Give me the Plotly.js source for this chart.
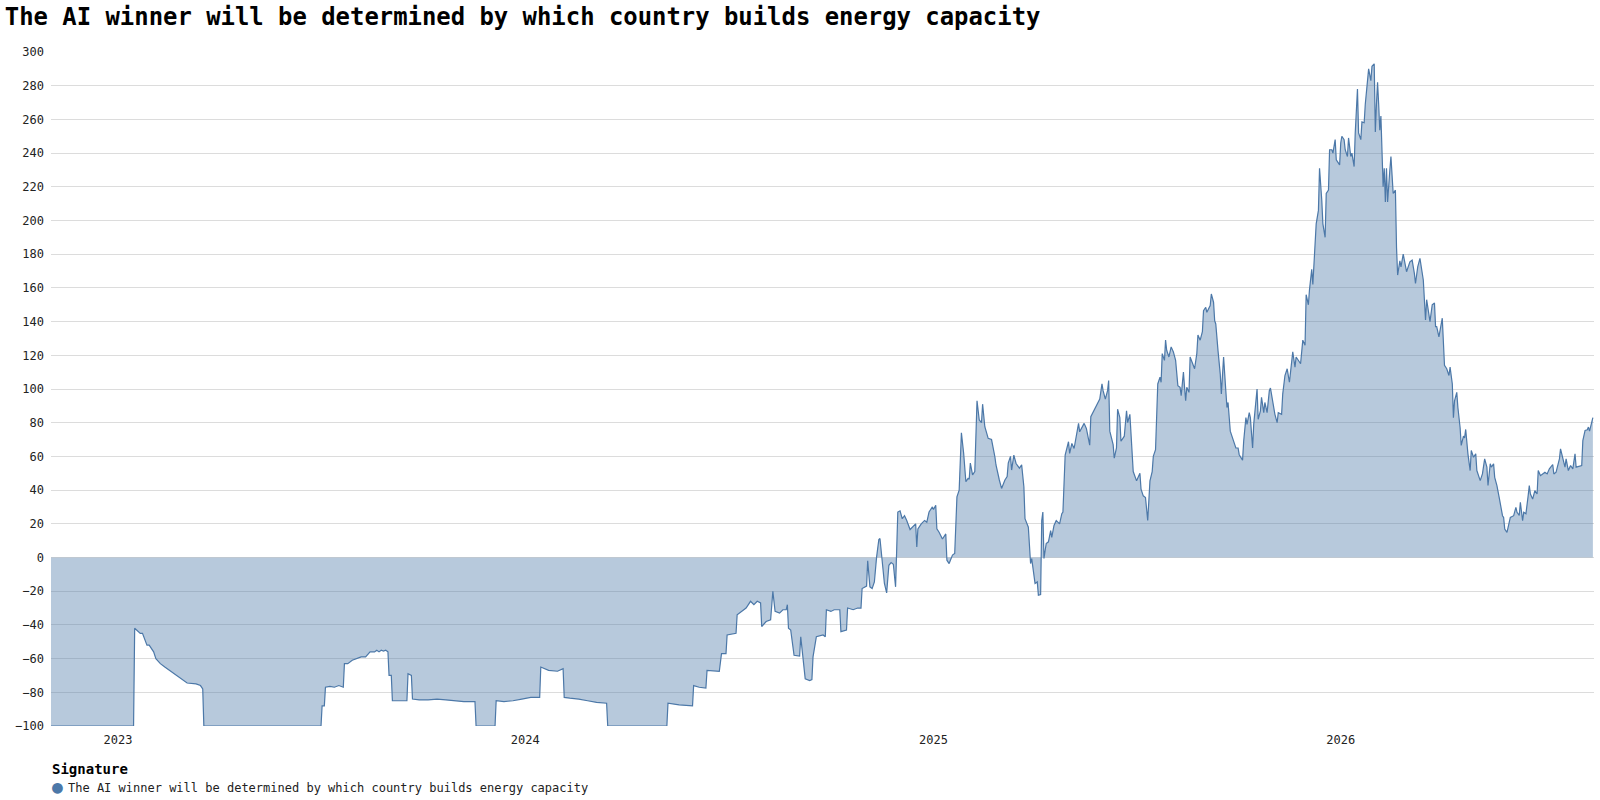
<!DOCTYPE html>
<html>
<head>
<meta charset="utf-8">
<script src="https://cdn.plot.ly/plotly-3.0.1.min.js"></script>
<style>
  html, body { margin: 0; padding: 0; background: #fff; }
  #chart { width: 1600px; height: 800px; }
</style>
</head>
<body>
<div id="chart"></div>
<script>
// values, one line per month
const dates2023 = [
  '2022-11-02', '2023-01-15', '2023-01-16', '2023-01-21', '2023-01-23', '2023-01-27', '2023-01-29',
  '2023-02-02', '2023-02-04', '2023-02-08', '2023-02-12', '2023-02-16', '2023-02-20', '2023-02-24', '2023-02-28',
  '2023-03-04', '2023-03-12', '2023-03-16', '2023-03-18', '2023-03-19',
  '2023-07-02', '2023-07-03', '2023-07-05', '2023-07-06', '2023-07-10', '2023-07-14', '2023-07-18', '2023-07-22', '2023-07-23', '2023-07-26', '2023-07-30',
  '2023-08-03', '2023-08-07', '2023-08-11', '2023-08-15', '2023-08-19', '2023-08-21', '2023-08-23', '2023-08-25', '2023-08-27', '2023-08-29', '2023-08-31',
  '2023-09-01', '2023-09-03', '2023-09-04', '2023-09-08', '2023-09-12', '2023-09-17', '2023-09-18', '2023-09-21', '2023-09-22', '2023-09-28',
  '2023-10-06', '2023-10-14', '2023-10-22', '2023-10-30',
  '2023-11-07', '2023-11-17', '2023-11-18',
  '2023-12-05', '2023-12-06', '2023-12-13', '2023-12-21', '2023-12-29',
];
const values2023 = [
  -100, -100, -42, -45, -45, -52, -52,
  -56, -60, -63, -65, -67, -69, -71, -73,
  -74.5, -75, -76, -78, -100,
  -100, -88, -88, -77, -76.5, -77, -76, -77, -63, -63, -61,
  -60, -59, -59, -56, -56, -55, -56, -55, -55.5, -55, -56,
  -70, -70, -85, -85, -85, -85, -69, -70, -84, -84.5,
  -84.5, -84, -84.5, -85,
  -85.5, -85.5, -100,
  -100, -85, -85.5, -85, -84,
];

const dates2024 = [
  '2024-01-06', '2024-01-14', '2024-01-15', '2024-01-22', '2024-01-30',
  '2024-02-04', '2024-02-05', '2024-02-10', '2024-02-18', '2024-02-26',
  '2024-03-05', '2024-03-14', '2024-03-15',
  '2024-05-07', '2024-05-08', '2024-05-18', '2024-05-30', '2024-05-31',
  '2024-06-05', '2024-06-11', '2024-06-12', '2024-06-23', '2024-06-25', '2024-06-29', '2024-06-30',
  '2024-07-08', '2024-07-09', '2024-07-17', '2024-07-21', '2024-07-24', '2024-07-27', '2024-07-30', '2024-07-31',
  '2024-08-04', '2024-08-08', '2024-08-10', '2024-08-12', '2024-08-16', '2024-08-19', '2024-08-22', '2024-08-23', '2024-08-24', '2024-08-26', '2024-08-29',
  '2024-09-03', '2024-09-04', '2024-09-06', '2024-09-08', '2024-09-12', '2024-09-14', '2024-09-15', '2024-09-18', '2024-09-24', '2024-09-26', '2024-09-27',
  '2024-10-01', '2024-10-04', '2024-10-09', '2024-10-10', '2024-10-15', '2024-10-16', '2024-10-21', '2024-10-25', '2024-10-28', '2024-10-29',
  '2024-11-02', '2024-11-03', '2024-11-05', '2024-11-07', '2024-11-09', '2024-11-11', '2024-11-13', '2024-11-14', '2024-11-16', '2024-11-18', '2024-11-20', '2024-11-22', '2024-11-24', '2024-11-26', '2024-11-28', '2024-11-30',
  '2024-12-02', '2024-12-04', '2024-12-06', '2024-12-08', '2024-12-11', '2024-12-13', '2024-12-16', '2024-12-17', '2024-12-18', '2024-12-21', '2024-12-24', '2024-12-26', '2024-12-28', '2024-12-31',
];
const values2024 = [
  -83, -83, -65, -67, -67.5,
  -66, -83, -83.5, -84, -85,
  -86, -86.5, -100,
  -100, -86.5, -87.5, -88, -76,
  -77, -77.5, -67, -67.5, -57, -57, -46,
  -45, -34, -30, -26, -28, -26, -27, -41,
  -38, -37, -20, -32, -33, -31, -31, -28, -42, -43, -58,
  -58.5, -47, -58, -72, -73, -72.5, -59, -47, -46, -47, -31,
  -32, -31, -31, -44, -43, -30, -31, -30, -30, -18.4,
  -17, -2, -17.4, -18.4, -14.5, 0.4, 10.7, 11.3, -0.6, -15.4, -21, -4.6, -3, -4, -17.4, 27,
  27.7, 23, 24.8, 22, 16.6, 18, 20, 6.3, 17, 20, 22, 21, 27, 30,
];

const dates2025 = [
  '2025-01-01', '2025-01-03', '2025-01-04', '2025-01-06', '2025-01-09', '2025-01-12', '2025-01-13', '2025-01-15', '2025-01-18', '2025-01-20', '2025-01-22', '2025-01-24', '2025-01-26', '2025-01-28', '2025-01-30',
  '2025-02-01', '2025-02-02', '2025-02-03', '2025-02-05', '2025-02-07', '2025-02-09', '2025-02-11', '2025-02-13', '2025-02-14', '2025-02-16', '2025-02-19', '2025-02-22', '2025-02-25', '2025-02-26',
  '2025-03-01', '2025-03-03', '2025-03-06', '2025-03-08', '2025-03-09', '2025-03-11', '2025-03-12', '2025-03-14', '2025-03-16', '2025-03-19', '2025-03-21', '2025-03-23', '2025-03-24', '2025-03-27', '2025-03-29', '2025-03-30',
  '2025-04-02', '2025-04-04', '2025-04-05', '2025-04-07', '2025-04-08', '2025-04-09', '2025-04-10', '2025-04-12', '2025-04-14', '2025-04-16', '2025-04-17', '2025-04-19', '2025-04-21', '2025-04-24', '2025-04-26', '2025-04-27', '2025-04-29', '2025-04-30',
  '2025-05-02', '2025-05-03', '2025-05-05', '2025-05-07', '2025-05-09', '2025-05-11', '2025-05-12', '2025-05-14', '2025-05-16', '2025-05-18', '2025-05-21', '2025-05-22', '2025-05-25', '2025-05-27', '2025-05-30',
  '2025-06-01', '2025-06-02', '2025-06-04', '2025-06-06', '2025-06-07', '2025-06-08', '2025-06-11', '2025-06-12', '2025-06-14', '2025-06-15', '2025-06-17', '2025-06-18', '2025-06-21', '2025-06-23', '2025-06-24', '2025-06-26', '2025-06-29',
  '2025-07-02', '2025-07-05', '2025-07-06', '2025-07-08', '2025-07-10', '2025-07-12', '2025-07-14', '2025-07-16', '2025-07-17', '2025-07-19', '2025-07-21', '2025-07-23', '2025-07-24', '2025-07-25', '2025-07-27', '2025-07-28', '2025-07-29', '2025-07-31',
  '2025-08-02', '2025-08-04', '2025-08-06', '2025-08-08', '2025-08-10', '2025-08-11', '2025-08-13', '2025-08-14', '2025-08-15', '2025-08-16', '2025-08-18', '2025-08-19', '2025-08-21', '2025-08-23', '2025-08-25', '2025-08-26', '2025-08-28', '2025-08-30', '2025-08-31',
  '2025-09-02', '2025-09-03', '2025-09-06', '2025-09-07', '2025-09-09', '2025-09-10', '2025-09-11', '2025-09-13', '2025-09-15', '2025-09-16', '2025-09-18', '2025-09-20', '2025-09-21', '2025-09-22', '2025-09-24', '2025-09-26', '2025-09-27', '2025-09-29',
  '2025-10-01', '2025-10-02', '2025-10-05', '2025-10-06', '2025-10-08', '2025-10-09', '2025-10-11', '2025-10-12', '2025-10-14', '2025-10-15', '2025-10-18', '2025-10-19', '2025-10-21', '2025-10-22', '2025-10-24', '2025-10-25', '2025-10-27', '2025-10-29', '2025-10-30',
  '2025-11-01', '2025-11-03', '2025-11-05', '2025-11-06', '2025-11-09', '2025-11-10', '2025-11-12', '2025-11-14', '2025-11-16', '2025-11-18', '2025-11-19', '2025-11-21', '2025-11-22', '2025-11-25', '2025-11-26', '2025-11-28', '2025-11-30',
  '2025-12-01', '2025-12-03', '2025-12-04', '2025-12-06', '2025-12-07', '2025-12-09', '2025-12-10', '2025-12-12', '2025-12-13', '2025-12-15', '2025-12-16', '2025-12-18', '2025-12-19', '2025-12-21', '2025-12-22', '2025-12-24', '2025-12-25', '2025-12-27', '2025-12-28', '2025-12-31',
];
const values2025 = [
  28.5, 31, 17, 15, 11, 14, -1.6, -3.6, 1.4, 2.4, 36, 40, 74, 62, 45,
  47, 46.5, 56, 49, 51, 93, 81.6, 80, 91, 77.6, 70.7, 70, 59.8, 54.9,
  46, 41, 46, 48, 56, 60, 51.9, 60.8, 55.8, 53, 55, 42, 23, 18, -3.6, -0.6,
  -15.4, -14.5, -22.4, -22, 22, 27, -0.6, 8.3, 9.3, 16, 12, 19, 22, 20, 26, 27, 60.8, 63.8,
  68.7, 61.8, 67.7, 64.7, 71.7, 79.6, 74.6, 77.6, 79.6, 76.6, 66.7, 83.6, 87.5, 90.5, 94,
  103, 99, 94, 99, 105, 75, 67, 59, 65, 88, 83, 69, 72, 87, 80, 85, 51,
  45.5, 50, 40.6, 36.6, 35.6, 22, 45.5, 51, 60, 64, 103, 107, 104, 121, 117, 129, 123, 119,
  125, 122, 117, 102, 101, 96, 110, 101, 93, 101, 98, 119, 115, 112, 121, 132, 129, 134, 146.5,
  148.5, 145.5, 149.5, 156.4, 151.5, 140.6, 138.6, 122.8, 109, 97, 119, 99, 89, 92, 75, 71, 69, 65,
  65, 61, 57.8, 69, 83, 79, 86, 83, 65, 79, 100, 82, 87, 95, 86, 92, 86, 99, 100.6,
  93, 85, 80, 86, 85, 97, 108, 112, 104, 117, 122, 113, 119, 116, 115, 129, 126,
  156, 150, 159, 171, 162, 184, 198, 206, 231, 212, 198, 190, 216, 218, 242, 242, 240, 248, 236, 233,
];

const dates2026 = [
  '2026-01-01', '2026-01-02', '2026-01-04', '2026-01-05', '2026-01-07', '2026-01-08', '2026-01-10', '2026-01-11', '2026-01-13', '2026-01-14', '2026-01-16', '2026-01-17', '2026-01-19', '2026-01-20', '2026-01-22', '2026-01-23', '2026-01-25', '2026-01-26', '2026-01-28', '2026-01-29', '2026-01-31',
  '2026-02-01', '2026-02-02', '2026-02-03', '2026-02-04', '2026-02-05', '2026-02-06', '2026-02-07', '2026-02-08', '2026-02-09', '2026-02-10', '2026-02-11', '2026-02-12', '2026-02-14', '2026-02-15', '2026-02-17', '2026-02-19', '2026-02-20', '2026-02-21', '2026-02-23', '2026-02-24', '2026-02-26', '2026-02-27',
  '2026-03-01', '2026-03-04', '2026-03-06', '2026-03-08', '2026-03-09', '2026-03-11', '2026-03-13', '2026-03-16', '2026-03-17', '2026-03-18', '2026-03-19', '2026-03-21', '2026-03-22', '2026-03-24', '2026-03-26', '2026-03-27', '2026-03-28', '2026-03-30',
  '2026-04-01', '2026-04-02', '2026-04-04', '2026-04-06', '2026-04-08', '2026-04-09', '2026-04-11', '2026-04-12', '2026-04-13', '2026-04-15', '2026-04-16', '2026-04-18', '2026-04-19', '2026-04-21', '2026-04-22', '2026-04-23', '2026-04-25', '2026-04-27', '2026-04-28', '2026-04-30',
  '2026-05-02', '2026-05-03', '2026-05-06', '2026-05-08', '2026-05-10', '2026-05-12', '2026-05-13', '2026-05-15', '2026-05-16', '2026-05-18', '2026-05-19', '2026-05-21', '2026-05-23', '2026-05-24', '2026-05-26', '2026-05-27', '2026-05-28', '2026-05-30',
  '2026-06-01', '2026-06-02', '2026-06-05', '2026-06-07', '2026-06-08', '2026-06-10', '2026-06-11', '2026-06-13', '2026-06-14', '2026-06-16', '2026-06-18', '2026-06-19', '2026-06-20', '2026-06-22', '2026-06-24', '2026-06-26', '2026-06-27', '2026-06-29',
  '2026-07-01', '2026-07-03', '2026-07-05', '2026-07-07', '2026-07-10', '2026-07-11', '2026-07-13', '2026-07-16', '2026-07-17', '2026-07-19', '2026-07-21', '2026-07-22', '2026-07-24', '2026-07-26', '2026-07-28', '2026-07-30', '2026-07-31',
  '2026-08-05', '2026-08-06', '2026-08-08', '2026-08-10', '2026-08-11', '2026-08-12', '2026-08-14', '2026-08-15',
];
const values2026 = [
  246, 250, 248, 242, 238, 249, 238, 240, 232, 252, 278, 252, 248, 258.5, 258, 269, 281, 290, 283, 291.5, 293,
  252.6, 269, 282, 269, 253.6, 262, 242, 220, 231, 211, 231, 211, 230, 238, 216, 218, 184, 167.6, 176, 172.5, 180, 176,
  169.6, 175.5, 176.5, 168.6, 162.6, 172.5, 177.5, 164.7, 152.8, 141, 153, 143, 140, 150, 151, 137, 137, 131,
  137, 142, 114, 112, 108, 113, 103, 83, 93, 98, 89, 77, 66.5, 72, 71, 76, 61.5, 51.6, 63.5, 59.5,
  61.5, 51.6, 45.6, 49.6, 58.5, 53.6, 42.7, 55.6, 53.6, 55.6, 47.6, 42.7, 35.7, 31.7, 24.8, 23.8, 16.9, 14.9,
  19.8, 23.8, 24.8, 29.8, 26.8, 25, 32.7, 21.8, 26.8, 26, 36.7, 42.7, 37.7, 34.7, 39.7, 37.7, 51.6, 48.6,
  49.6, 50.6, 49.6, 52.6, 55.2, 49.6, 50.6, 58.5, 64.5, 59.5, 53.6, 58.5, 51.6, 54.6, 52.6, 61.5, 53.6,
  54.6, 69.4, 75.4, 75.8, 77.4, 75, 80.4, 83,
];

const seriesName = 'The AI winner will be determined by which country builds energy capacity';
const chartTitle = 'The AI winner will be determined by which country builds energy capacity';
const legendTitle = 'Signature';
const yTicks = [-100, -80, -60, -40, -20, 0, 20, 40, 60, 80, 100, 120, 140, 160, 180, 200, 220, 240, 260, 280, 300];

const dates = [].concat(dates2023, dates2024, dates2025, dates2026);
const values = [].concat(values2023, values2024, values2025, values2026);
if (dates.length !== values.length) console.warn('length mismatch', dates.length, values.length);

const blue = '#4c78a8';
const mono = 'DejaVu Sans Mono, Liberation Mono, monospace';

const area = {
  x: dates,
  y: values,
  type: 'scatter',
  mode: 'lines',
  fill: 'tozeroy',
  fillcolor: 'rgba(76,120,168,0.4)',
  line: {color: blue, width: 1.2},
  name: seriesName,
  showlegend: false,
};

// legend drawn as annotations so it does not push the bottom margin
const legendNotes = [
  {
    text: '<b>' + legendTitle + '</b>',
    xref: 'paper', yref: 'paper', x: 0, y: 0,
    xanchor: 'left', yanchor: 'middle', xshift: -1, yshift: -43,
    showarrow: false,
    font: {family: mono, size: 14, color: '#000'},
  },
  {
    text: '●',
    xref: 'paper', yref: 'paper', x: 0, y: 0,
    xanchor: 'center', yanchor: 'middle', xshift: 6, yshift: -60,
    showarrow: false,
    font: {family: mono, size: 18, color: blue},
  },
  {
    text: seriesName,
    xref: 'paper', yref: 'paper', x: 0, y: 0,
    xanchor: 'left', yanchor: 'middle', xshift: 15, yshift: -62,
    showarrow: false,
    font: {family: mono, size: 12, color: '#222'},
  },
];

const layout = {
  width: 1600,
  height: 800,
  paper_bgcolor: '#fff',
  plot_bgcolor: '#fff',
  font: {family: mono, size: 12, color: '#222'},
  margin: {l: 51, r: 6, t: 52, b: 74},
  showlegend: false,
  title: {
    text: '<b>' + chartTitle + '</b>',
    font: {family: mono, size: 23.9, color: '#000'},
    x: 0.003,
    xanchor: 'left',
    y: 0.979,
    yanchor: 'middle',
  },
  xaxis: {
    type: 'date',
    range: ['2022-11-02', '2026-08-16'],
    tick0: '2023-01-01',
    dtick: 'M12',
    tickformat: '%Y',
    showgrid: false,
    zeroline: false,
    showline: false,
    ticks: '',
    ticklabelstandoff: 5,
    tickfont: {family: mono, size: 12, color: '#222'},
  },
  yaxis: {
    range: [-100, 300],
    tickvals: yTicks,
    showgrid: true,
    gridcolor: '#dcdcdc',
    gridwidth: 1,
    zeroline: false,
    showline: false,
    ticks: '',
    ticklabelstandoff: 6,
    tickfont: {family: mono, size: 12, color: '#222'},
  },
  annotations: legendNotes,
};

Plotly.newPlot('chart', [area], layout, {displayModeBar: false, staticPlot: true});
</script>
</body>
</html>
